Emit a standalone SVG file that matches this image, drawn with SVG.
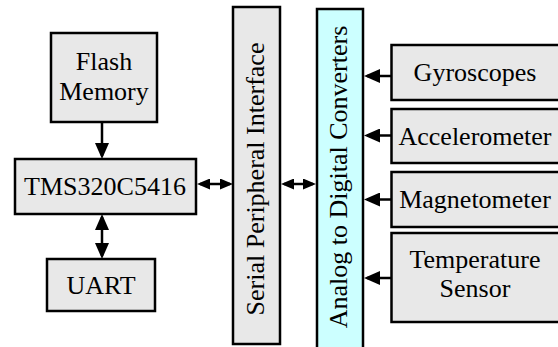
<svg xmlns="http://www.w3.org/2000/svg" width="558" height="347" viewBox="0 0 558 347">
<style>
.box{fill:#e8e8e8;stroke:#000;stroke-width:2.5}
.adc{fill:#ccffff;stroke:#000;stroke-width:2.5}
.t{font-family:"Liberation Serif","Times New Roman",serif;font-size:26px;fill:#000;text-anchor:middle}
.c{stroke:#000;stroke-width:2.5;fill:none}
</style>
<defs>
<marker id="big" markerUnits="userSpaceOnUse" markerWidth="16" markerHeight="14" viewBox="0 0 16 14" refX="13" refY="7" orient="auto-start-reverse"><path d="M0,0 L16,7 L0,14 z" fill="#000"/></marker>
<marker id="sm" markerUnits="userSpaceOnUse" markerWidth="13" markerHeight="11" viewBox="0 0 13 11" refX="10" refY="5.5" orient="auto-start-reverse"><path d="M0,0 L13,5.5 L0,11 z" fill="#000"/></marker>
</defs>
<rect width="558" height="347" fill="#fff"/>
<g id="flash"><rect class="box" x="51" y="33" width="106" height="89"/><text class="t" x="104" y="70">Flash</text><text class="t" x="104" y="100">Memory</text></g>
<g id="tms"><rect class="box" x="15" y="159" width="181" height="55"/><text class="t" x="105" y="195">TMS320C5416</text></g>
<g id="uart"><rect class="box" x="47" y="259" width="108" height="52"/><text class="t" x="101" y="294">UART</text></g>
<g id="spi"><rect class="box" x="233" y="7" width="47" height="337"/><text class="t" transform="translate(264,179) rotate(-90)">Serial Peripheral Interface</text></g>
<g id="adc"><rect class="adc" x="317" y="9" width="46" height="360"/><text class="t" transform="translate(347,177) rotate(-90)">Analog to Digital Converters</text></g>
<g id="gyro"><rect class="box" x="391.5" y="45" width="200" height="55"/><text class="t" x="475" y="81">Gyroscopes</text></g>
<g id="accel"><rect class="box" x="391.5" y="109" width="200" height="54"/><text class="t" x="475" y="145">Accelerometer</text></g>
<g id="mag"><rect class="box" x="391.5" y="172" width="200" height="55"/><text class="t" x="475" y="208">Magnetometer</text></g>
<g id="temp"><rect class="box" x="391.5" y="233" width="200" height="89"/><text class="t" x="475" y="268">Temperature</text><text class="t" x="475" y="297">Sensor</text></g>
<g id="connectors">
<line class="c" x1="102" y1="122" x2="102" y2="156" marker-end="url(#big)"/>
<line class="c" x1="102" y1="217" x2="102" y2="256" marker-start="url(#big)" marker-end="url(#big)"/>
<line class="c" x1="200" y1="184" x2="230" y2="184" marker-start="url(#sm)" marker-end="url(#sm)"/>
<line class="c" x1="284" y1="184" x2="313" y2="184" marker-start="url(#sm)" marker-end="url(#sm)"/>
<line class="c" x1="391" y1="76" x2="367" y2="76" marker-end="url(#big)"/>
<line class="c" x1="391" y1="135.5" x2="367" y2="135.5" marker-end="url(#big)"/>
<line class="c" x1="391" y1="199.5" x2="367" y2="199.5" marker-end="url(#big)"/>
<line class="c" x1="391" y1="278" x2="367" y2="278" marker-end="url(#big)"/>
</g>
</svg>
